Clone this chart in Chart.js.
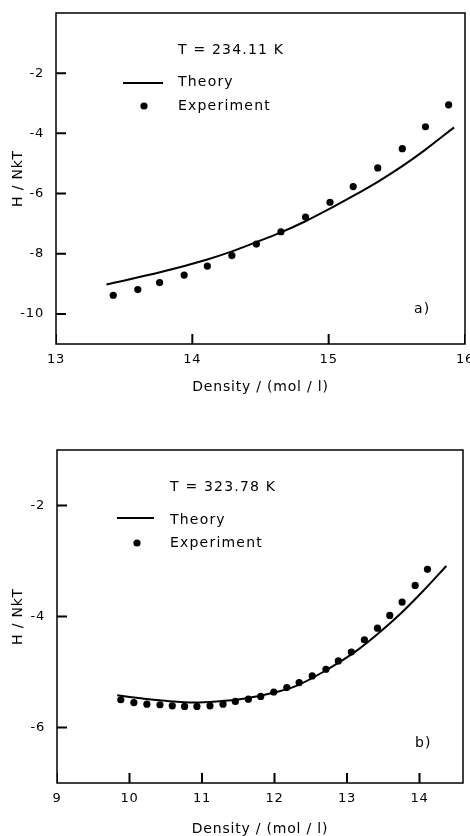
<!DOCTYPE html>
<html>
<head>
<meta charset="utf-8">
<script src="https://cdn.jsdelivr.net/npm/chart.js@4.4.1/dist/chart.umd.min.js"></script>
<style>
  html, body { margin: 0; padding: 0; background: #fff; }
  canvas { display: block; }
</style>
</head>
<body>
<canvas id="chartA" width="470" height="418"></canvas>
<canvas id="chartB" width="470" height="418"></canvas>
<script>
// panel a)  T = 234.11 K
const densityExpA = [13.42, 13.60, 13.76, 13.94, 14.11, 14.29, 14.47, 14.65, 14.83, 15.01, 15.18, 15.36, 15.54, 15.71, 15.88];
const enthalpyExpA = [-9.38, -9.19, -8.96, -8.71, -8.41, -8.06, -7.68, -7.27, -6.78, -6.29, -5.77, -5.15, -4.51, -3.78, -3.05];
const densityTheoryA = [13.37, 13.77, 14.11, 14.28, 14.46, 14.65, 14.83, 15.01, 15.18, 15.36, 15.54, 15.71, 15.92];
const enthalpyTheoryA = [-9.02, -8.61, -8.19, -7.94, -7.63, -7.29, -6.92, -6.50, -6.08, -5.61, -5.09, -4.54, -3.80];
const xTicksA = [13, 14, 15, 16];
const yTicksA = [-2, -4, -6, -8, -10];

// panel b)  T = 323.78 K
const densityExpB = [9.88, 10.06, 10.24, 10.42, 10.59, 10.76, 10.93, 11.11, 11.29, 11.46, 11.64, 11.81, 11.99,
  12.17, 12.34, 12.52, 12.71, 12.88, 13.06, 13.24, 13.42, 13.59, 13.76, 13.94, 14.11];
const enthalpyExpB = [-5.50, -5.55, -5.58, -5.59, -5.61, -5.62, -5.62, -5.61, -5.58, -5.53, -5.49, -5.44, -5.36,
  -5.28, -5.19, -5.07, -4.95, -4.80, -4.64, -4.42, -4.21, -3.98, -3.74, -3.44, -3.15];
const densityTheoryB = [9.83, 10.2, 10.5, 10.9, 11.2, 11.57, 12.03, 12.3, 12.67, 13.13, 13.41, 13.73, 14.05, 14.37];
const enthalpyTheoryB = [-5.42, -5.48, -5.52, -5.55, -5.53, -5.48, -5.36, -5.25, -5.00, -4.62, -4.33, -3.96, -3.54, -3.09];
const xTicksB = [9, 10, 11, 12, 13, 14];
const yTicksB = [-2, -4, -6];

const FONT = '"DejaVu Sans", sans-serif';
const tickFont = {family: FONT, size: 13};
const titleFont = {family: FONT, size: 14, lineHeight: 1};
const CANVAS_W = 470;
const CANVAS_H = 418;
const TICK_LEN = 10;

const toPoints = (xs, ys) => xs.map((x, i) => ({x, y: ys[i]}));

// short inward tick segments, one per tick value, broken apart by null gaps
function tickSegments (cfg) {
  const plotW = CANVAS_W - cfg.padding.right - cfg.yWidth;
  const plotH = CANVAS_H - cfg.padding.top - cfg.xHeight;
  const dx = (cfg.xMax - cfg.xMin) * TICK_LEN / plotW;
  const dy = (cfg.yMax - cfg.yMin) * TICK_LEN / plotH;
  const pts = [];
  cfg.xTicks.forEach(v => {
    pts.push({x: v, y: cfg.yMin}, {x: v, y: cfg.yMin + dy}, {x: v, y: null});
  });
  cfg.yTicks.forEach(v => {
    pts.push({x: cfg.xMin, y: v}, {x: cfg.xMin + dx, y: v}, {x: cfg.xMin, y: null});
  });
  return pts;
}

// box around the plot and the notes inside the panel
const framePlugin = {
  id: 'frame',
  beforeDraw (chart) {
    chart.ctx.letterSpacing = '0.8px';
  },
  afterDraw (chart, args, opts) {
    const {ctx, chartArea: a} = chart;
    ctx.save();
    ctx.globalAlpha = 1;
    ctx.fillStyle = '#000';
    ctx.strokeStyle = '#000';
    ctx.lineWidth = 1.5;
    ctx.strokeRect(a.left, a.top, a.right - a.left, a.bottom - a.top);

    const n = opts.notes;
    ctx.font = '14px ' + FONT;
    ctx.textBaseline = 'middle';
    ctx.textAlign = 'left';
    ctx.letterSpacing = '1.2px';
    ctx.fillText(n.temp, n.textX, n.tempY);
    ctx.fillText('Theory', n.textX, n.theoryY);
    ctx.fillText('Experiment', n.textX, n.expY);
    ctx.fillText(n.panel, n.panelX, n.panelY);
    ctx.lineWidth = 2;
    ctx.beginPath();
    ctx.moveTo(n.lineX1, n.lineY);
    ctx.lineTo(n.lineX2, n.lineY);
    ctx.stroke();
    ctx.beginPath();
    ctx.arc(n.dotX, n.dotY, 3.6, 0, Math.PI * 2);
    ctx.fill();
    ctx.restore();
  }
};

function makeChart (id, cfg) {
  return new Chart(document.getElementById(id), {
    type: 'scatter',
    data: {
      datasets: [
        {
          label: 'Theory',
          data: toPoints(cfg.xTheory, cfg.yTheory),
          showLine: true,
          borderColor: '#000',
          borderWidth: 2,
          pointRadius: 0,
          cubicInterpolationMode: 'monotone'
        },
        {
          label: 'Experiment',
          data: toPoints(cfg.xExp, cfg.yExp),
          backgroundColor: '#000',
          borderWidth: 0,
          pointRadius: 3.6
        },
        {
          label: 'ticks',
          data: tickSegments(cfg),
          showLine: true,
          spanGaps: false,
          borderColor: '#000',
          borderWidth: 2,
          pointRadius: 0,
          tension: 0
        }
      ]
    },
    options: {
      responsive: false,
      animation: false,
      devicePixelRatio: 1,
      layout: {padding: cfg.padding},
      plugins: {
        legend: {display: false},
        tooltip: {enabled: false},
        frame: {notes: cfg.notes}
      },
      scales: {
        x: {
          type: 'linear',
          min: cfg.xMin,
          max: cfg.xMax,
          afterBuildTicks: s => { s.ticks = cfg.xTicks.map(v => ({value: v})); },
          afterFit: s => { s.height = cfg.xHeight; s.paddingLeft = 0; s.paddingRight = 0; },
          grid: {display: false, drawTicks: false},
          border: {display: false},
          ticks: {padding: 8, font: tickFont, color: '#000', maxRotation: 0, autoSkip: false},
          title: {display: true, text: 'Density / (mol / l)', font: titleFont, color: '#000',
            padding: {top: 0, bottom: cfg.xTitlePad}}
        },
        y: {
          type: 'linear',
          min: cfg.yMin,
          max: cfg.yMax,
          afterBuildTicks: s => { s.ticks = cfg.yTicks.map(v => ({value: v})); },
          afterFit: s => { s.width = cfg.yWidth; s.paddingTop = 0; s.paddingBottom = 0; },
          grid: {display: false, drawTicks: false},
          border: {display: false},
          ticks: {padding: 12, font: tickFont, color: '#000', autoSkip: false},
          title: {display: true, text: 'H / NkT', font: titleFont, color: '#000',
            padding: {top: 11, bottom: 0}}
        }
      }
    },
    plugins: [framePlugin]
  });
}

makeChart('chartA', {
  xExp: densityExpA, yExp: enthalpyExpA, xTheory: densityTheoryA, yTheory: enthalpyTheoryA,
  xMin: 13, xMax: 16, xTicks: xTicksA, yMin: -11, yMax: 0, yTicks: yTicksA,
  padding: {top: 13, right: 5, left: 0, bottom: 0},
  yWidth: 56, xHeight: 74, xTitlePad: 24,
  notes: {temp: 'T = 234.11 K', panel: 'a)', textX: 178, tempY: 50, theoryY: 82, expY: 106,
    lineX1: 123, lineX2: 163, lineY: 83, dotX: 144, dotY: 106, panelX: 414, panelY: 309}
});

makeChart('chartB', {
  xExp: densityExpB, yExp: enthalpyExpB, xTheory: densityTheoryB, yTheory: enthalpyTheoryB,
  xMin: 9, xMax: 14.6, xTicks: xTicksB, yMin: -7, yMax: -1, yTicks: yTicksB,
  padding: {top: 32, right: 7, left: 0, bottom: 0},
  yWidth: 57, xHeight: 53, xTitlePad: 0,
  notes: {temp: 'T = 323.78 K', panel: 'b)', textX: 170, tempY: 69, theoryY: 102, expY: 125,
    lineX1: 117, lineX2: 154, lineY: 100, dotX: 137, dotY: 125, panelX: 415, panelY: 325}
});
</script>
</body>
</html>
